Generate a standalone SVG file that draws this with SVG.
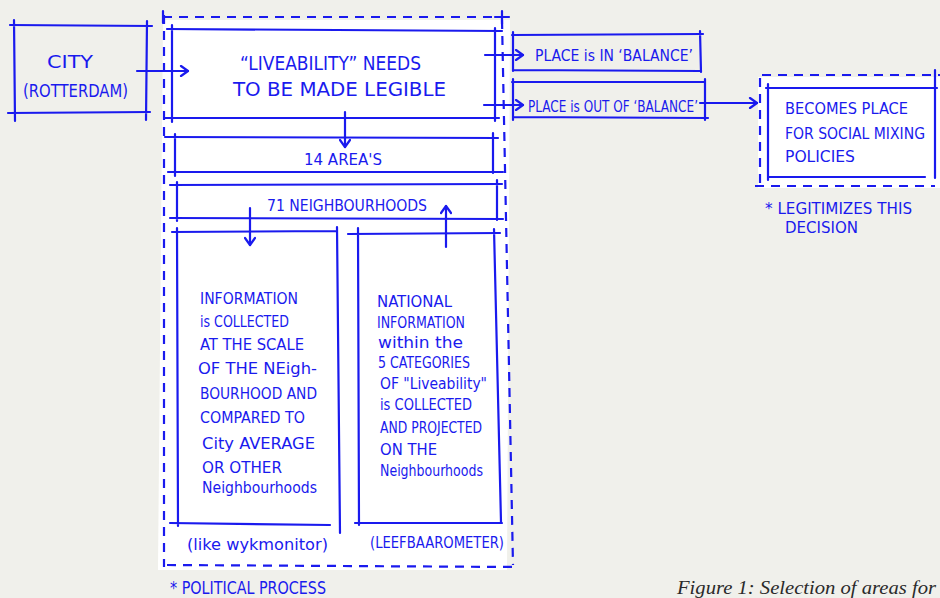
<svg xmlns="http://www.w3.org/2000/svg" width="940" height="598" viewBox="0 0 940 598">
<style>
.ln{fill:none;stroke:#1a1aee;stroke-width:2.2;stroke-linecap:round;stroke-linejoin:round}
.ds{fill:none;stroke:#1a1aee;stroke-width:2.2;stroke-linecap:butt;stroke-dasharray:9 7}
.t{font-family:"Liberation Sans Narrow","DejaVu Sans Condensed","Liberation Sans",sans-serif;fill:#1a1aee;font-size:15px}
.tb{font-size:20px}
.tm{font-size:17px}
.cap{font-family:"Liberation Serif",serif;font-style:italic;font-size:18px;fill:#2a2a2a}
</style>
<defs>
<marker id="ah" viewBox="0 0 12 12" refX="10" refY="6" markerWidth="12" markerHeight="12" markerUnits="userSpaceOnUse" orient="auto">
<path d="M3,1 L10,6 L3,11" fill="none" stroke="#1a1aee" stroke-width="2.2" stroke-linecap="round" stroke-linejoin="round"/>
</marker>
</defs>
<rect width="940" height="598" fill="#f0f0eb"/>
<polygon points="163,20 510,20 507,570 158,570" fill="#ffffff"/>
<rect x="758" y="77" width="182" height="111" fill="#ffffff"/>

<g id="city">
<path class="ln" d="M10,25 L152,26 M8,113 L150,112 M14,20 L15,121 M147,21 L146,120"/>
<text class="t tm" x="47" y="68" textLength="46" lengthAdjust="spacingAndGlyphs">CITY</text>
<text class="t tm" x="23" y="97" textLength="105" lengthAdjust="spacingAndGlyphs">(ROTTERDAM)</text>
</g>

<g id="political-process">
<path class="ds" d="M163,17 L505,17 M164,15 L164,567 M502,20 L513,565 M167,565 L517,567"/>
<path class="ln" d="M163,11 L163,23 M502,11 L502,24 M495,17 L509,17"/>
<text class="t tm" x="170" y="594" textLength="156" lengthAdjust="spacingAndGlyphs">* POLITICAL PROCESS</text>
</g>

<g id="liveability">
<path class="ln" d="M167,29 L502,31 M172,25 L172,122 M495,28 L495,121 M165,118 L499,118"/>
<text class="t tb" x="240" y="70" textLength="181" lengthAdjust="spacingAndGlyphs">“LIVEABILITY” NEEDS</text>
<text class="t tb" x="233" y="96" textLength="213" lengthAdjust="spacingAndGlyphs">TO BE MADE LEGIBLE</text>
</g>

<g id="areas">
<path class="ln" d="M165,137 L498,138 M168,172 L503,172 M175,134 L175,176 M493,133 L493,173"/>
<text class="t" x="304" y="165" font-size="16" textLength="78" lengthAdjust="spacingAndGlyphs">14 AREA'S</text>
</g>

<g id="neighbourhoods">
<path class="ln" d="M170,185 L502,184 M170,218 L503,219 M177,182 L177,221 M497,180 L497,220"/>
<text class="t" x="267" y="211" font-size="16" textLength="160" lengthAdjust="spacingAndGlyphs">71 NEIGHBOURHOODS</text>
</g>

<g id="local-info">
<path class="ln" d="M172,232 L336,231 M177,228 L178,526 M337,227 L340,533 M170,523 L330,525"/>
<text class="t" x="200" y="303.5" textLength="98" lengthAdjust="spacingAndGlyphs">INFORMATION</text>
<text class="t" x="200" y="326.5" textLength="89" lengthAdjust="spacingAndGlyphs">is COLLECTED</text>
<text class="t" x="200" y="349.5" textLength="104" lengthAdjust="spacingAndGlyphs">AT THE SCALE</text>
<text class="t" x="198" y="373.5" textLength="119" lengthAdjust="spacingAndGlyphs">OF THE NEigh-</text>
<text class="t" x="200" y="398.5" textLength="117" lengthAdjust="spacingAndGlyphs">BOURHOOD AND</text>
<text class="t" x="200" y="422.5" textLength="105" lengthAdjust="spacingAndGlyphs">COMPARED TO</text>
<text class="t" x="202" y="448.5" textLength="113" lengthAdjust="spacingAndGlyphs">City AVERAGE</text>
<text class="t" x="202" y="472.5" textLength="80" lengthAdjust="spacingAndGlyphs">OR OTHER</text>
<text class="t" x="202" y="493" textLength="115" lengthAdjust="spacingAndGlyphs">Neighbourhoods</text>
<text class="t" x="187" y="550" textLength="141" lengthAdjust="spacingAndGlyphs">(like wykmonitor)</text>
</g>

<g id="national-info">
<path class="ln" d="M348,234 L500,233 M358,228 L359,525 M494,229 L501,522 M355,523 L502,523"/>
<text class="t" x="377" y="306.5" textLength="75" lengthAdjust="spacingAndGlyphs">NATIONAL</text>
<text class="t" x="377" y="327.5" textLength="88" lengthAdjust="spacingAndGlyphs">INFORMATION</text>
<text class="t" x="378" y="347.5" textLength="85" lengthAdjust="spacingAndGlyphs">within the</text>
<text class="t" x="378" y="367.5" textLength="92" lengthAdjust="spacingAndGlyphs">5 CATEGORIES</text>
<text class="t" x="380" y="388.5" textLength="107" lengthAdjust="spacingAndGlyphs">OF "Liveability"</text>
<text class="t" x="380" y="409.5" textLength="92" lengthAdjust="spacingAndGlyphs">is COLLECTED</text>
<text class="t" x="380" y="432.5" textLength="102" lengthAdjust="spacingAndGlyphs">AND PROJECTED</text>
<text class="t" x="380" y="454.5" textLength="57" lengthAdjust="spacingAndGlyphs">ON THE</text>
<text class="t" x="380" y="476" textLength="103" lengthAdjust="spacingAndGlyphs">Neighbourhoods</text>
<text class="t" x="370" y="548" textLength="134" lengthAdjust="spacingAndGlyphs">(LEEFBAAROMETER)</text>
</g>

<g id="in-balance">
<path class="ln" d="M512,35 L703,34 M513,32 L513,71 M700,31 L701,72 M513,70 L700,71"/>
<text class="t" x="535" y="60.5" textLength="158" lengthAdjust="spacingAndGlyphs">PLACE is IN ‘BALANCE’</text>
</g>

<g id="out-of-balance">
<path class="ln" d="M512,82 L705,82 M513,79 L513,120 M705,79 L705,120 M513,117 L708,118"/>
<text class="t" x="528" y="111.5" textLength="170" lengthAdjust="spacingAndGlyphs">PLACE is OUT OF ‘BALANCE’</text>
</g>

<g id="social-mixing">
<path class="ds" d="M762,75 L940,75 M760,78 L760,188 M755,186 L935,186"/>
<path class="ln" d="M766,88 L937,88 M768,84 L768,180 M935,70 L935,178 M768,177 L925,177"/>
<text class="t" x="785" y="114" font-size="16" textLength="123" lengthAdjust="spacingAndGlyphs">BECOMES PLACE</text>
<text class="t" x="785" y="139" font-size="16" textLength="140" lengthAdjust="spacingAndGlyphs">FOR SOCIAL MIXING</text>
<text class="t" x="785" y="162" font-size="16" textLength="70" lengthAdjust="spacingAndGlyphs">POLICIES</text>
<text class="t" x="765" y="214" font-size="16" textLength="147" lengthAdjust="spacingAndGlyphs">* LEGITIMIZES THIS</text>
<text class="t" x="785" y="233" font-size="16" textLength="73" lengthAdjust="spacingAndGlyphs">DECISION</text>
</g>

<g id="connectors">
<path class="ln" d="M137,71 L188,71" marker-end="url(#ah)"/>
<path class="ln" d="M345,112 L345,147" marker-end="url(#ah)"/>
<path class="ln" d="M250,208 L250,245" marker-end="url(#ah)"/>
<path class="ln" d="M446,247 L446,206" marker-end="url(#ah)"/>
<path class="ln" d="M485,55 L523,55" marker-end="url(#ah)"/>
<path class="ln" d="M484,105 L523,105" marker-end="url(#ah)"/>
<path class="ln" d="M700,103 L757,103" marker-end="url(#ah)"/>
</g>

<text class="cap" x="677" y="594" font-size="18" textLength="259" lengthAdjust="spacingAndGlyphs">Figure 1: Selection of areas for</text>
</svg>
